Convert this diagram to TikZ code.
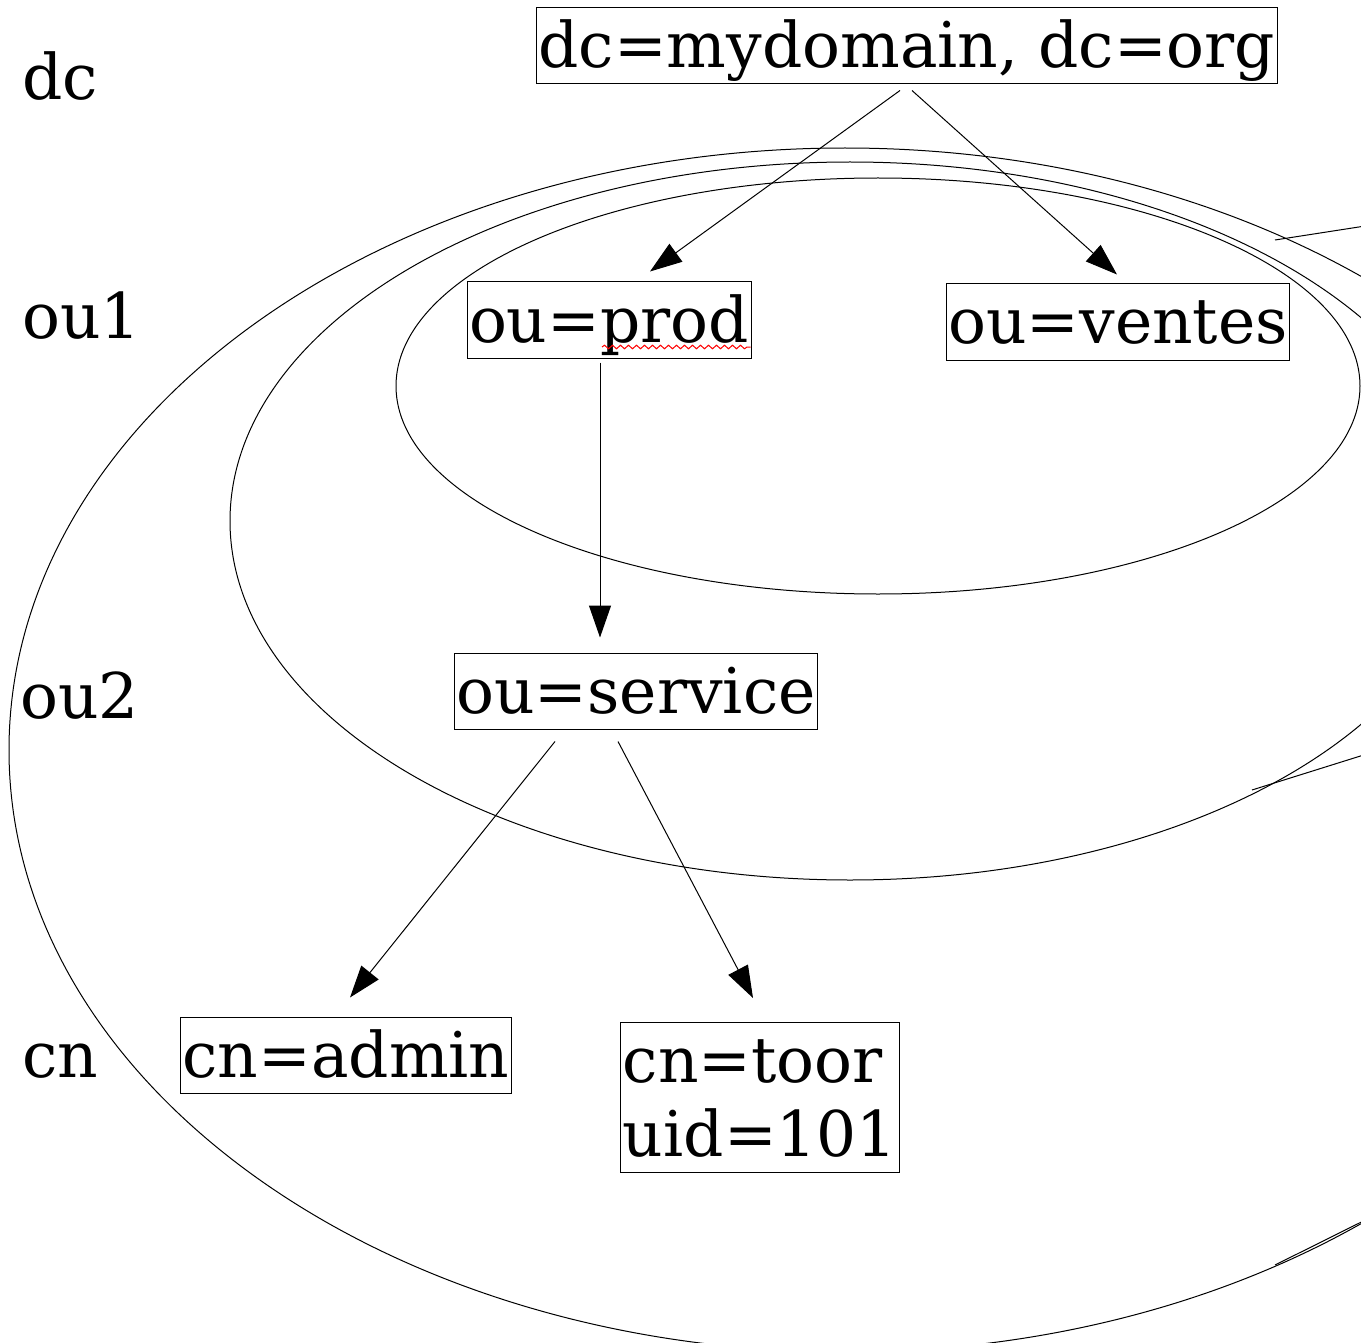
\documentclass[tikz,border=0pt]{standalone}
\usepackage{fontspec}
\setmainfont{DejaVu Serif}
\usetikzlibrary{arrows.meta,decorations.pathmorphing}
\newcommand\diagfont{\fontsize{63}{74}\selectfont}
\begin{document}
\begin{tikzpicture}[x=1pt,y=-1pt,
  entry/.style={draw, line width=1pt, inner xsep=2pt, inner ysep=2pt,
    text height=58pt, text depth=14pt, font=\diagfont},
  entrytwo/.style={draw, line width=1pt, inner xsep=2pt, inner ysep=2pt,
    align=left, font=\diagfont},
  level/.style={anchor=base west, inner sep=0pt, font=\diagfont},
  scope line/.style={line width=1pt},
  arr/.style={line width=1pt, -{Triangle[length=32pt,width=22pt]}},
  spell/.style={draw=red, line width=1pt,
    decorate, decoration={snake, segment length=8pt, amplitude=1.8pt}}]

% canvas
\clip (0,0) rectangle (1361,1343);
\fill[white] (0,0) rectangle (1361,1343);

% scope ellipses
\draw[scope line] (845,750) ellipse [x radius=836pt, y radius=602pt];
\draw[scope line] (850,521) ellipse [x radius=620pt, y radius=359pt];
\draw[scope line] (878,386) ellipse [x radius=482pt, y radius=208pt];

% leader lines running off to the right
\coordinate (lead1a) at (1275,240);
\coordinate (lead1b) at (1520,202);
\coordinate (lead2a) at (1252,790);
\coordinate (lead2b) at (1520,706);
\coordinate (lead3a) at (1275,1265);
\coordinate (lead3b) at (1520,1143);
\draw[scope line] (lead1a) -- (lead1b);
\draw[scope line] (lead2a) -- (lead2b);
\draw[scope line] (lead3a) -- (lead3b);

% level labels
\node[level] (ldc)  at (22,100)  {dc};
\node[level] (lou1) at (22,338)  {ou1};
\node[level] (lou2) at (20,718)  {ou2};
\node[level] (lcn)  at (22,1077) {cn};

% entries
\node[entry, anchor=base] (root)    at (907,68)   {dc=mydomain, dc=org};
\node[entry, anchor=base] (prod)    at (609,342)  {ou=prod};
\node[entry, anchor=base] (ventes)  at (1118,344) {ou=ventes};
\node[entry, anchor=base] (service) at (636,713)  {ou=service};
\node[entry, anchor=base] (admin)   at (346,1077) {cn=admin};
\node[entrytwo, anchor=north] (toor) at (760,1022)
  {\rule{0pt}{58pt}cn=toor\\uid=101\rule[-14pt]{0pt}{14pt}};

% spelling mark under "prod"
\draw[spell] ([xshift=-7pt,yshift=-5pt]prod.base) -- ([xshift=-1pt,yshift=-5pt]prod.base east);

% tree edges
\draw[arr] ([xshift=-7pt,yshift=-6pt]root.south) -- ([xshift=41pt,yshift=10pt]prod.north);
\draw[arr] ([xshift=5pt,yshift=-6pt]root.south) -- ([xshift=-1pt,yshift=9pt]ventes.north);
\draw[arr] ([xshift=-9pt,yshift=-4pt]prod.south) -- ([xshift=-36pt,yshift=15pt]service.north);
\draw[arr] ([xshift=-81pt,yshift=-12pt]service.south) -- ([xshift=4pt,yshift=19pt]admin.north);
\draw[arr] ([xshift=-18pt,yshift=-12pt]service.south) -- ([xshift=-7pt,yshift=24pt]toor.north);
\end{tikzpicture}
\end{document}
